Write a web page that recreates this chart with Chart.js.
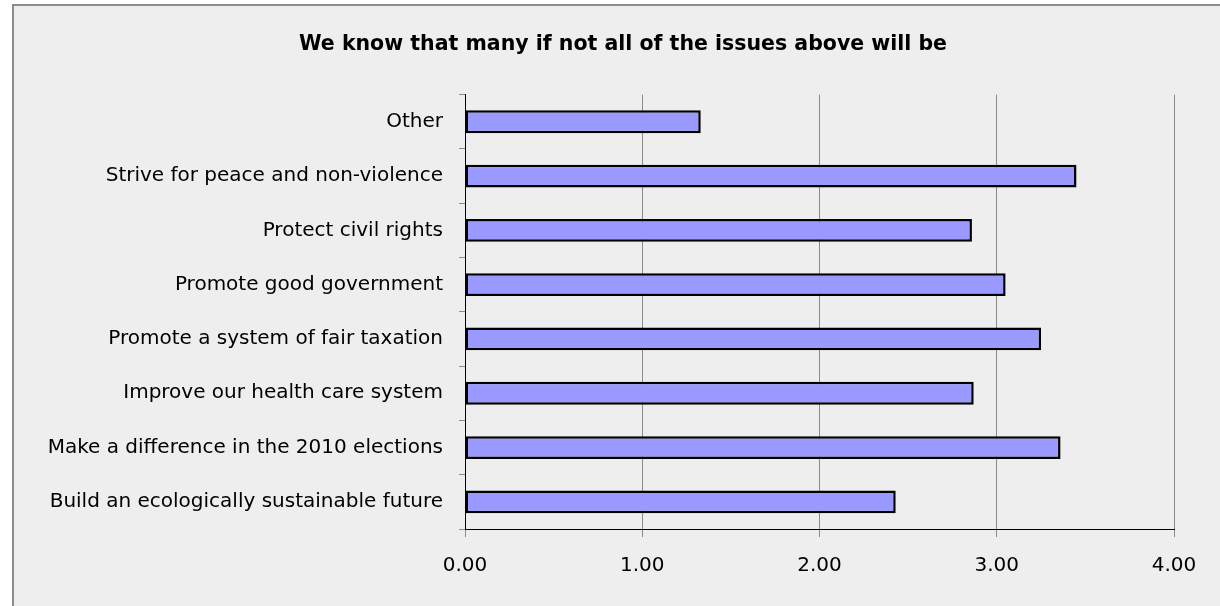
<!DOCTYPE html>
<html>
<head>
<meta charset="utf-8">
<script src="https://cdn.jsdelivr.net/npm/chart.js@4/dist/chart.umd.min.js"></script>
<style>
  html, body { margin: 0; padding: 0; background: #fff; overflow: hidden; }
  #frame {
    position: absolute; left: 12px; top: 4px; width: 1300px; height: 700px;
    background: #eeeeee; border-left: 2px solid #8c8c8c; border-top: 2px solid #8c8c8c;
  }
  #wrap { position: absolute; left: 26px; top: 0; width: 1194px; height: 606px; }
</style>
</head>
<body>
<div id="frame"></div>
<div id="wrap"><canvas id="chart"></canvas></div>
<script>
// Survey answers, top row first
const categories = [
  "Other",
  "Strive for peace and non-violence",
  "Protect civil rights",
  "Promote good government",
  "Promote a system of fair taxation",
  "Improve our health care system",
  "Make a difference in the 2010 elections",
  "Build an ecologically sustainable future",
];
const scores = [1.33, 3.45, 2.86, 3.05, 3.25, 2.87, 3.36, 2.43];
const xTicks = [0, 1, 2, 3, 4];

const font = "'DejaVu Sans', Verdana, sans-serif";

// title sits centred on the whole frame, not on the padded area
const centerTitle = {
  id: "centerTitle",
  afterLayout(chart) {
    const t = chart.titleBlock;
    if (t) {
      t.left += 23;
      t.right += 23;
    }
  },
};

new Chart(document.getElementById("chart"), {
  type: "bar",
  data: {
    labels: categories,
    datasets: [
      {
        data: scores,
        backgroundColor: "#9999ff",
        borderColor: "#000",
        borderWidth: 2.5,
        borderSkipped: false,
        barPercentage: 0.42,
        categoryPercentage: 1,
      },
    ],
  },
  plugins: [centerTitle],
  options: {
    indexAxis: "y",
    responsive: true,
    maintainAspectRatio: false,
    animation: false,
    layout: { padding: { left: 0, right: 46, top: 0, bottom: 0 } },
    plugins: {
      legend: { display: false },
      tooltip: { enabled: false },
      title: {
        display: true,
        text: "We know that many if not all of the issues above will be",
        color: "#000",
        font: { family: font, size: 20.5, weight: "bold" },
        padding: { top: 32, bottom: 38 },
      },
    },
    scales: {
      x: {
        min: 0,
        max: 4,
        afterBuildTicks: (scale) => {
          scale.ticks = xTicks.map((v) => ({ value: v }));
        },
        afterFit: (scale) => {
          scale.height = 77; // keep plot bottom at the reference spot
        },
        ticks: {
          color: "#000",
          font: { family: font, size: 20 },
          padding: 17,
          callback: (v) => Number(v).toFixed(2),
        },
        grid: { color: "#8a8a8a", lineWidth: 1, tickLength: 8 },
        border: { color: "#000", width: 1 },
      },
      y: {
        afterFit: (scale) => {
          scale.width = 439;
        },
        ticks: {
          color: "#000",
          font: { family: font, size: 20 },
          padding: 16,
        },
        grid: {
          offset: true,
          drawOnChartArea: false,
          color: "#8a8a8a",
          tickLength: 6,
        },
        border: { color: "#000", width: 1 },
      },
    },
  },
});
</script>
</body>
</html>
